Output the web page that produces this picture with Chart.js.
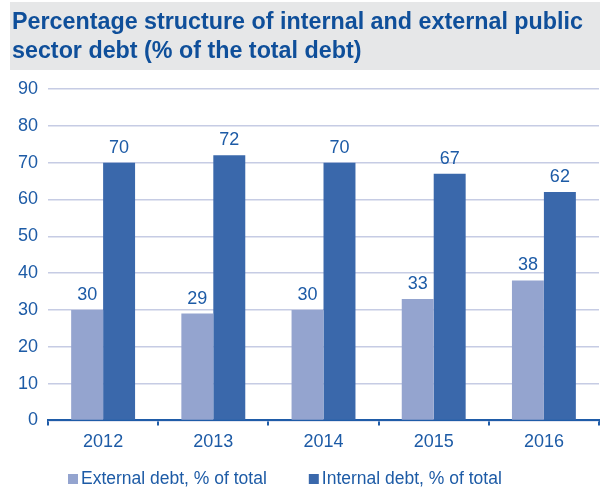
<!DOCTYPE html>
<html>
<head>
<meta charset="utf-8">
<script src="https://cdn.jsdelivr.net/npm/chart.js@4"></script>
<style>
  html, body { margin: 0; padding: 0; background: #fff; }
  #wrap { position: relative; width: 600px; height: 489px; }
</style>
</head>
<body>
<div id="wrap"><canvas id="debt"></canvas></div>
<script>
Chart.defaults.font.family = '"Liberation Sans", Arial, sans-serif';
Chart.defaults.font.size = 18;
Chart.defaults.color = '#1D5BA6';

// data
const years = ['2012', '2013', '2014', '2015', '2016'];
const externalDebt = [30, 29, 30, 33, 38];
const internalDebt = [70, 72, 70, 67, 62];
const titleLines = ['Percentage structure of internal and external public', 'sector debt (% of the total debt)'];

const textBlue = '#1D5BA6';
const FONT = '"Liberation Sans", Arial, sans-serif';

// grey band with the heading
const headerBand = {
    id: 'headerBand',
    beforeDraw(chart) {
        const ctx = chart.ctx;
        ctx.save();
        ctx.fillStyle = '#E6E7E8';
        ctx.fillRect(10, 2, 590, 68);
        ctx.fillStyle = '#0F4F9A';
        ctx.font = 'bold 23.3px ' + FONT;
        ctx.textBaseline = 'alphabetic';
        ctx.fillText(titleLines[0], 12, 29);
        ctx.fillText(titleLines[1], 12, 58);
        ctx.restore();
    }
};

// value labels above each bar
const valueLabels = {
    id: 'valueLabels',
    afterDatasetsDraw(chart) {
        const ctx = chart.ctx;
        ctx.save();
        ctx.fillStyle = textBlue;
        ctx.font = '18px ' + FONT;
        ctx.textAlign = 'center';
        ctx.textBaseline = 'bottom';
        chart.data.datasets.forEach((ds, i) => {
            chart.getDatasetMeta(i).data.forEach((bar, j) => {
                ctx.fillText(String(ds.data[j]), bar.x, bar.y - 6);
            });
        });
        ctx.restore();
    }
};

// legend row under the axis: small squares with the series names
const bottomLegend = {
    id: 'bottomLegend',
    afterDraw(chart) {
        const ctx = chart.ctx;
        ctx.save();
        ctx.font = '17.5px ' + FONT;
        ctx.textBaseline = 'middle';
        let x = 68;
        const y = 479;
        chart.data.datasets.forEach(ds => {
            ctx.fillStyle = ds.backgroundColor;
            ctx.fillRect(x, y - 5, 10, 10);
            ctx.fillStyle = textBlue;
            ctx.fillText(ds.label, x + 13, y);
            x += 13 + ctx.measureText(ds.label).width + 42;
        });
        ctx.restore();
    }
};

const data = {
    labels: years,
    datasets: [
        {
            label: 'External debt, % of total',
            data: externalDebt,
            backgroundColor: '#94A4CF'
        },
        {
            label: 'Internal debt, % of total',
            data: internalDebt,
            backgroundColor: '#3A68AB'
        }
    ]
};

const options = {
    responsive: true,
    maintainAspectRatio: false,
    animation: false,
    layout: { padding: { top: 89, left: 8, right: 1, bottom: 30 } },
    datasets: { bar: { categoryPercentage: 0.58, barPercentage: 1.0 } },
    scales: {
        x: {
            grid: {
                offset: true,
                drawOnChartArea: false,
                drawTicks: true,
                tickLength: 5,
                color: '#1F5CA8',
                lineWidth: 2
            },
            border: { color: '#1F5CA8', width: 2 },
            ticks: { padding: 6 }
        },
        y: {
            min: 0,
            max: 90,
            ticks: { stepSize: 10, padding: 10 },
            grid: { color: '#C6CCE4', lineWidth: 1.5, drawTicks: false },
            border: { display: false }
        }
    },
    plugins: {
        legend: { display: false },
        tooltip: { enabled: false }
    }
};

new Chart(document.getElementById('debt'), {
    type: 'bar',
    data: data,
    options: options,
    plugins: [headerBand, valueLabels, bottomLegend]
});
</script>
</body>
</html>
